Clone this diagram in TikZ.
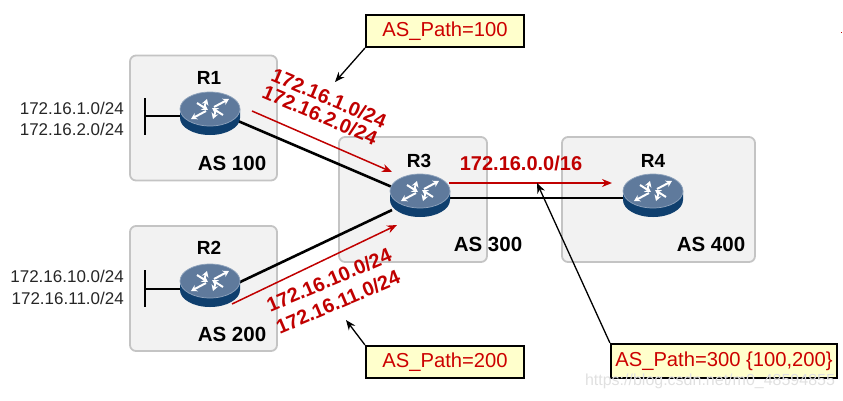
\documentclass[tikz,border=0pt]{standalone}
\usepackage{fontspec}
\setmainfont{Liberation Sans}
\usetikzlibrary{arrows.meta,shapes.geometric}
\definecolor{asfill}{HTML}{F2F2F2}
\definecolor{asline}{HTML}{C4C4C4}
\definecolor{redtxt}{HTML}{C00000}
\definecolor{calltxt}{HTML}{CC0000}
\definecolor{callfill}{HTML}{FFFFCC}
\definecolor{rtop}{HTML}{5F7A9C}
\definecolor{rtopedge}{HTML}{8FA3BC}
\definecolor{rside}{HTML}{0F3F6E}
\tikzset{
  asbox/.style={draw=asline,line width=1.8pt,fill=asfill,rounded corners=6pt,minimum width=#1,minimum height=125pt,inner sep=0pt},
  rname/.style={font=\fontsize{19}{21}\selectfont\bfseries,inner sep=0pt},
  asname/.style={font=\fontsize{20.5}{23}\selectfont\bfseries,inner sep=0pt},
  net/.style={font=\fontsize{17}{19}\selectfont,inner sep=0pt,text=black!85},
  route/.style={font=\fontsize{20}{22}\selectfont\bfseries,text=redtxt,inner sep=0pt},
  callout/.style={draw=black,line width=2.2pt,fill=callfill,text=calltxt,font=\fontsize{20.2}{22}\selectfont,inner sep=0pt,minimum height=32pt},
  link/.style={draw=black,line width=2.6pt},
  thinlink/.style={draw=black,line width=1.8pt},
  redarrow/.style={draw=redtxt,line width=1.5pt,-{Stealth[length=10pt,width=8pt]}},
  blackarrow/.style={draw=black,line width=1.3pt,-{Stealth[length=10pt,width=8pt]}},
  plainnode/.style={ellipse,minimum width=60pt,minimum height=44pt,inner sep=0pt},
  rarrow/.style={draw=white,line width=2pt,-{Stealth[length=6pt,width=7pt]}},
}
\newcommand{\routerbody}[3]{%
  \node[plainnode] (#1) at (#2,#3) {};
  \begin{scope}[shift={(#2,#3)}]
    \fill[rside] (-30,-5) -- (-30,4) arc[start angle=180,end angle=0,x radius=30,y radius=17] -- (30,-5) -- cycle;
    \fill[rtop,draw=rtopedge,line width=0.7pt] (0,-5) ellipse[x radius=30,y radius=17];
    \draw[rarrow] (-4,-3) -- (-19,5);
    \draw[rarrow] (4,-7) -- (19,-15);
    \draw[rarrow] (-6,-6) -- (-3,-15);
    \draw[rarrow] (6,-4) -- (3,5);
    \draw[rarrow] (-13,-11) -- (-2,-4) ;
    \draw[rarrow] (13,1) -- (2,-6);
  \end{scope}
}
\begin{document}
\begin{tikzpicture}[x=1pt,y=-1pt]
\useasboundingbox (0,0) rectangle (843,400);
% AS boxes
\node[asbox=147pt] (as1) at (203.5,118) {};
\node[asbox=147pt] (as2) at (203.5,288.5) {};
\node[asbox=148pt] (as3) at (413,199.5) {};
\node[asbox=193pt] (as4) at (658.5,199.5) {};
% end coordinates
\coordinate (r1out) at (238,121);
\coordinate (r3in1) at (392,187);
\coordinate (r2out) at (238,283);
\coordinate (r3in2) at (392,210);
\coordinate (r3out) at (450,198);
\coordinate (r4in) at (623,198);
\draw[link] (r1out) -- (r3in1);
\draw[link] (r2out) -- (r3in2);
\draw[thinlink] (r3out) -- (r4in);
% stubs
\coordinate (s1a) at (145,98); \coordinate (s1b) at (145,135); \coordinate (s1c) at (145,116); \coordinate (s1d) at (182,116);
\coordinate (s2a) at (145,270); \coordinate (s2b) at (145,307); \coordinate (s2c) at (145,289); \coordinate (s2d) at (182,289);
\draw[link] (s1a) -- (s1b);
\draw[link] (s1c) -- (s1d);
\draw[link] (s2a) -- (s2b);
\draw[link] (s2c) -- (s2d);
% routers
\routerbody{R1}{210}{114}
\routerbody{R2}{210}{286}
\routerbody{R3}{420}{196}
\routerbody{R4}{653}{196}
% labels
\node[rname] (l1) at (209,78) {R1};
\node[rname] (l2) at (209,248) {R2};
\node[rname] (l3) at (419,161) {R3};
\node[rname] (l4) at (653,161) {R4};
\node[asname] (a1) at (232,163) {AS 100};
\node[asname] (a2) at (232,334) {AS 200};
\node[asname] (a3) at (488,244) {AS 300};
\node[asname] (a4) at (711,244) {AS 400};
\node[net,anchor=east] (n1) at (124,108) {172.16.1.0/24};
\node[net,anchor=east] (n2) at (124,129) {172.16.2.0/24};
\node[net,anchor=east] (n3) at (124,276) {172.16.10.0/24};
\node[net,anchor=east] (n4) at (124,298) {172.16.11.0/24};
\node[route,rotate=-23] (t1) at (329,98) {172.16.1.0/24};
\node[route,rotate=-23] (t2) at (320,115) {172.16.2.0/24};
\node[route,rotate=23] (t3) at (329,280) {172.16.10.0/24};
\node[route,rotate=23] (t4) at (338,302) {172.16.11.0/24};
\node[route] (t5) at (521,163) {172.16.0.0/16};
% red arrows
\coordinate (ra1) at (252,111); \coordinate (rb1) at (392,172);
\coordinate (ra2) at (232,304); \coordinate (rb2) at (397,225);
\coordinate (ra3) at (449,183); \coordinate (rb3) at (612,183);
\draw[redarrow] (ra1) -- (rb1);
\draw[redarrow] (ra2) -- (rb2);
\draw[redarrow] (ra3) -- (rb3);
% callouts
\node[callout,minimum width=158pt] (c1) at (445,31) {AS\_Path=100};
\node[callout,minimum width=158pt] (c2) at (445,362) {AS\_Path=200};
\node[callout,minimum width=226pt,minimum height=34pt] (c3) at (724,361) {AS\_Path=300 \{100,200\}};
\coordinate (p1) at (335,82);
\coordinate (p2) at (346,320);
\coordinate (p3) at (537,183);
\draw[blackarrow] (c1.south west) -- (p1);
\draw[blackarrow] (c2.north west) -- (p2);
\draw[blackarrow] (c3.north west) -- (p3);
% watermark
\node[font=\fontsize{16}{18}\selectfont,text=black!12,inner sep=0pt] (wm) at (710,381) {https://blog.csdn.net/m0\_48594855};
\fill[redtxt] (841,32) rectangle (842,33);
\end{tikzpicture}
\end{document}
